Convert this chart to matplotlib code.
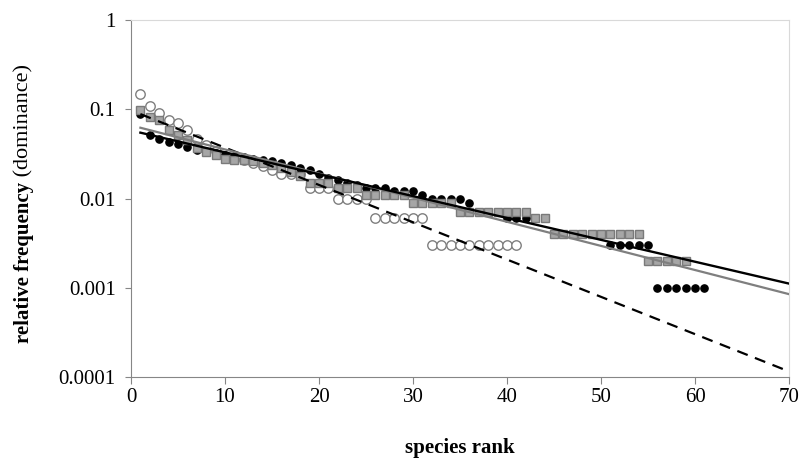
import matplotlib.pyplot as plt
import numpy as np

plt.rcParams['font.family'] = ['Liberation Serif', 'DejaVu Serif']

# relative frequency by species rank, three assemblages
open_circles = [0.15, 0.11, 0.09, 0.076, 0.07, 0.058, 0.046, 0.04, 0.034, 0.03,
                0.028, 0.027, 0.025, 0.023, 0.021, 0.019, 0.019, 0.019, 0.013, 0.013,
                0.013, 0.01, 0.01, 0.01, 0.01,
                0.006, 0.006, 0.006, 0.006, 0.006, 0.006,
                0.003, 0.003, 0.003, 0.003, 0.003, 0.003, 0.003, 0.003, 0.003, 0.003]

grey_squares = [0.098, 0.082, 0.076, 0.058, 0.052, 0.045, 0.037, 0.033, 0.031, 0.028,
                0.027, 0.027, 0.026, 0.025, 0.024, 0.022, 0.02, 0.018, 0.015, 0.015,
                0.015, 0.013, 0.013, 0.013,
                0.011, 0.011, 0.011, 0.011, 0.011,
                0.009, 0.009, 0.009, 0.009, 0.009,
                0.007, 0.007, 0.007, 0.007, 0.007, 0.007, 0.007, 0.007,
                0.006, 0.006,
                0.004, 0.004, 0.004, 0.004, 0.004, 0.004, 0.004, 0.004, 0.004, 0.004,
                0.002, 0.002, 0.002, 0.002, 0.002]

black_dots = [0.088, 0.052, 0.046, 0.043, 0.041, 0.038, 0.035, 0.033, 0.032, 0.031,
              0.030, 0.029, 0.028, 0.027, 0.026, 0.025, 0.024, 0.022, 0.021, 0.019,
              0.017, 0.016, 0.015, 0.014, 0.013,
              0.013, 0.013, 0.012, 0.012, 0.012,
              0.011, 0.01, 0.01, 0.01, 0.01, 0.009,
              0.007, 0.007, 0.007,
              0.006, 0.006, 0.006, 0.006, 0.006,
              0.004, 0.004, 0.004, 0.004, 0.004, 0.004,
              0.003, 0.003, 0.003, 0.003, 0.003,
              0.001, 0.001, 0.001, 0.001, 0.001, 0.001]

x_ticks = [0, 10, 20, 30, 40, 50, 60, 70]
y_ticks = [0.0001, 0.001, 0.01, 0.1, 1]
y_ticklabels = ['0.0001', '0.001', '0.01', '0.1', '1']


def exp_trend(values, x_end=70):
    # exponential trendline, fitted on ln(y) like a spreadsheet would
    ranks = np.arange(1, len(values) + 1)
    b, a = np.polyfit(ranks, np.log(values), 1)
    xs = np.linspace(1, x_end, 200)
    return xs, np.exp(a + b * xs)


fig = plt.figure(figsize=(8.02, 4.58), dpi=100)
ax = fig.add_axes([131 / 802, 1 - 377 / 458, (789 - 131) / 802, (377 - 20) / 458])

r_c = np.arange(1, len(open_circles) + 1)
r_s = np.arange(1, len(grey_squares) + 1)
r_b = np.arange(1, len(black_dots) + 1)

ax.plot(r_c, open_circles, 'o', ms=6.8, mfc='white', mec='#7f7f7f', mew=1.0, zorder=2)
ax.plot(r_b, black_dots, 'o', ms=5.2, mfc='black', mec='black', zorder=3)
ax.plot(r_s, grey_squares, 's', ms=5.6, mfc='#a6a6a6', mec='#7a7a7a', mew=1.0, zorder=4)

# trendlines (the grey one belongs to the black dots, the black one to the squares)
xs, ys = exp_trend(open_circles)
ax.plot(xs, ys, color='black', lw=1.6, ls=(0, (5, 3.5)), zorder=5)
xs, ys = exp_trend(black_dots)
ax.plot(xs, ys, color='#7f7f7f', lw=1.6, zorder=5)
xs, ys = exp_trend(grey_squares)
ax.plot(xs, ys, color='black', lw=1.7, zorder=6)

ax.set_yscale('log')
ax.set_xlim(0, 70)
ax.set_ylim(0.0001, 1)
ax.set_xticks(x_ticks)
ax.set_yticks(y_ticks)
ax.set_yticklabels(y_ticklabels)
ax.minorticks_off()
ax.tick_params(axis='both', labelsize=15, color='#868686', direction='out')
ax.tick_params(axis='y', length=4, pad=7)
ax.tick_params(axis='x', length=5, pad=3)

for s in ['left', 'bottom']:
    ax.spines[s].set_color('#868686')
for s in ['top', 'right']:
    ax.spines[s].set_color('#d9d9d9')

# axis titles
fig.text(460 / 802, 1 - 448 / 458, 'species rank', ha='center', va='center',
         fontsize=15, fontweight='bold')
t1 = fig.text(24 / 802, 1 - 343 / 458, 'relative frequency', rotation=90,
              ha='center', va='bottom', fontsize=15, fontweight='bold')
ax.annotate(' (dominance)', xy=(0.5, 1), xycoords=t1, rotation=90,
            ha='center', va='bottom', fontsize=16, annotation_clip=False)

fig.savefig('out.png', dpi=100)
